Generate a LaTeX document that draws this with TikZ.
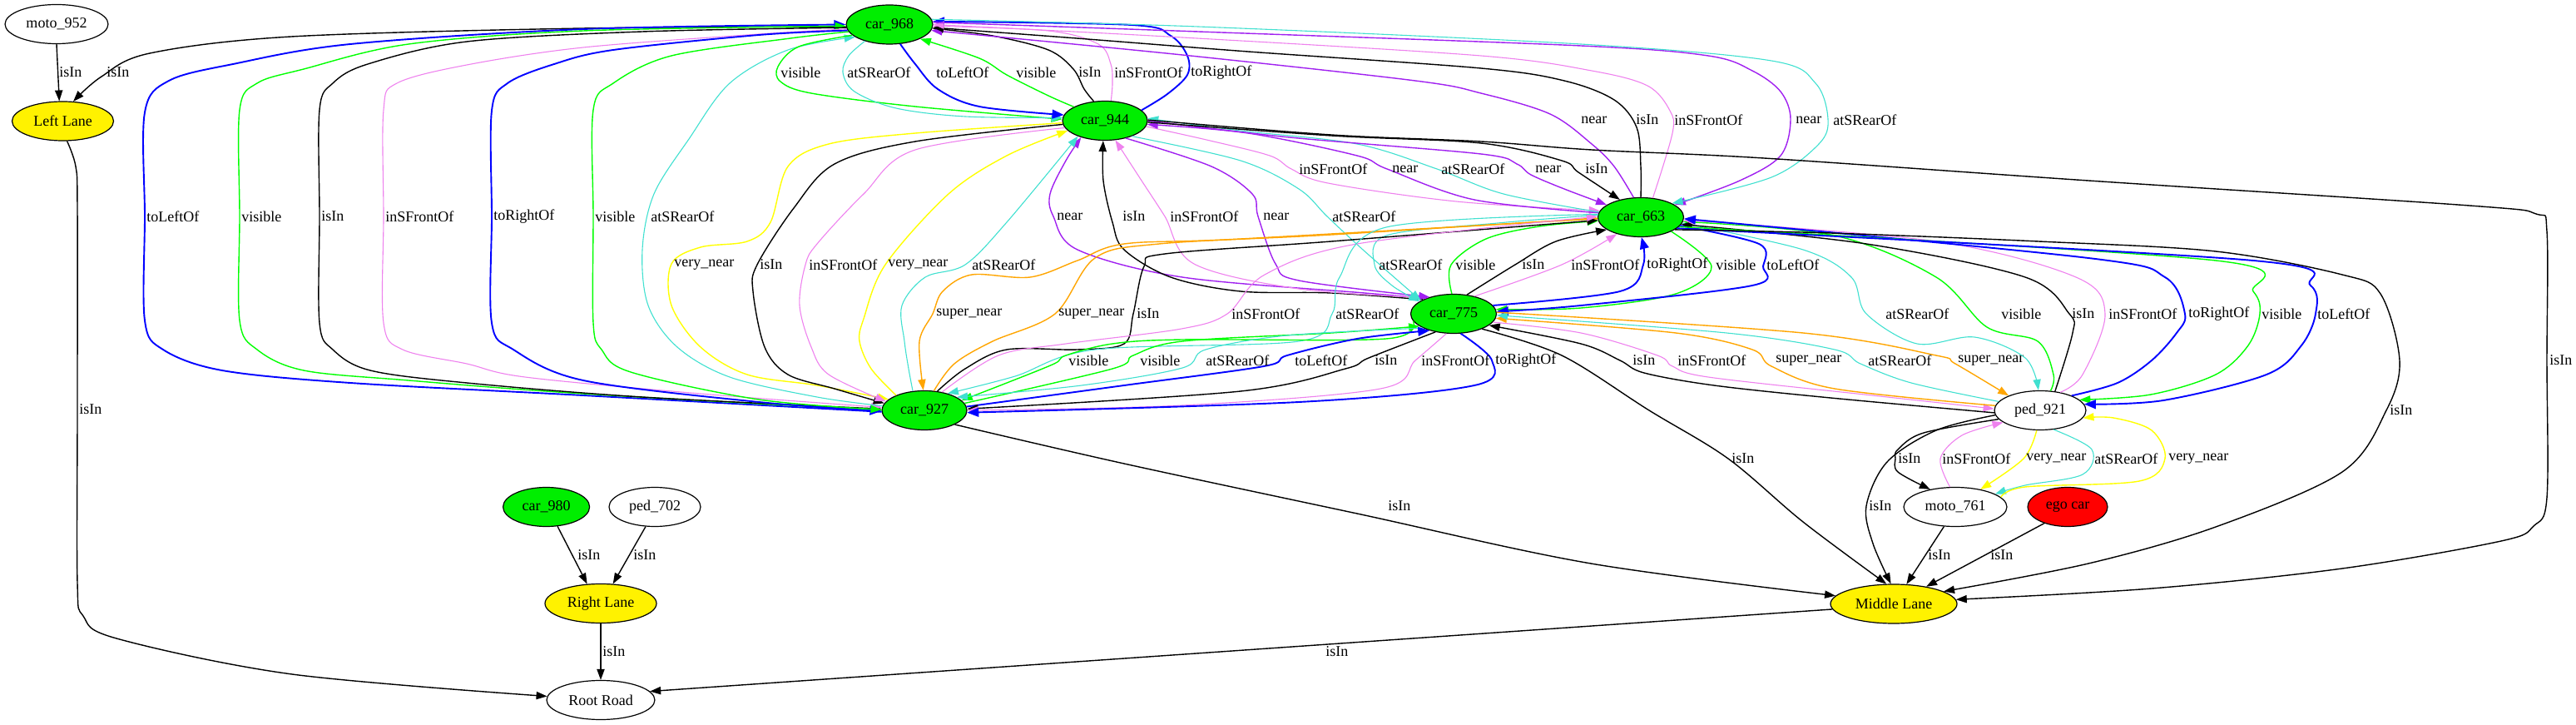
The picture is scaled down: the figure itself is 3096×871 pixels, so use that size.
\documentclass[tikz,border=0pt]{standalone}
\usepackage{fontspec}
\setmainfont{Liberation Serif}
\usetikzlibrary{shapes.geometric,arrows.meta}
\definecolor{ngreen}{HTML}{00EE00}
\definecolor{cgreen}{HTML}{00FF00}
\definecolor{cblue}{HTML}{0000FF}
\definecolor{cviolet}{HTML}{EE82EE}
\definecolor{cpurple}{HTML}{A020F0}
\definecolor{cturq}{HTML}{40E0D0}
\definecolor{corange}{HTML}{FFA500}
\definecolor{cyellow}{HTML}{FFFF00}
\newcommand\gfont{\fontsize{9}{10}\selectfont}
\tikzset{
  nd/.style={ellipse, draw=black, line width=0.6pt, inner sep=0pt, minimum height=23.5pt, font=\gfont},
  gn/.style={nd, fill=ngreen},
  yn/.style={nd, fill=yellow},
  rn/.style={nd, fill=red},
  wn/.style={nd, fill=white},
  lb/.style={anchor=west, inner sep=0pt, font=\gfont},
  ed/.style={line width=0.55pt, -{Triangle[length=6.5pt,width=4.6pt]}},
  ek/.style={ed, draw=black, line width=0.7pt},
  eb/.style={ed, draw=cblue, line width=0.95pt, -{Triangle[length=7pt,width=5.4pt]}},
  eg/.style={ed, draw=cgreen, line width=0.7pt},
  ev/.style={ed, draw=cviolet},
  ep/.style={ed, draw=cpurple, line width=0.7pt},
  et/.style={ed, draw=cturq},
  eo/.style={ed, draw=corange, line width=0.7pt},
  ey/.style={ed, draw=cyellow, line width=0.7pt},
  sm/.style={smooth, tension=0.55},
}
\begin{document}
\begin{tikzpicture}[x=0.5pt,y=-0.5pt]
\useasboundingbox (0,0) rectangle (3096,871);
% nodes
\node[wn, minimum width=62pt] (m952) at (68,29) {moto\_952};
\node[yn, minimum width=61pt] (ll) at (75.5,145.5) {Left Lane};
\node[gn, minimum width=52pt] (c968) at (1069,29.5) {car\_968};
\node[gn, minimum width=51pt] (c944) at (1328,145) {car\_944};
\node[gn, minimum width=51.5pt] (c663) at (1972,261) {car\_663};
\node[gn, minimum width=51.5pt] (c775) at (1747,377) {car\_775};
\node[gn, minimum width=51pt] (c927) at (1111,493) {car\_927};
\node[wn, minimum width=55pt] (p921) at (2452,493) {ped\_921};
\node[wn, minimum width=62pt] (m761) at (2350,609) {moto\_761};
\node[rn, minimum width=48pt] (ego) at (2485,609) {ego car};
\node[yn, minimum width=76pt] (ml) at (2276,725.5) {Middle Lane};
\node[gn, minimum width=52pt] (c980) at (656.6,609) {car\_980};
\node[wn, minimum width=55pt] (p702) at (787,609) {ped\_702};
\node[yn, minimum width=67pt] (rl) at (722,725) {Right Lane};
\node[wn, minimum width=65pt] (rr) at (722,841) {Root Road};

% moto_952, car_968 -> Left Lane
\draw[ek] (m952.270) -- (ll.100);
\node[lb] (t01) at (71,87) {isIn};
\draw[ek] plot[sm] coordinates {(c968.183) (700,34) (350,44) (180,64) (122,92) (ll.62)};
\node[lb] (t02) at (128,87) {isIn};

% car_968 <-> car_927
\draw[eb] plot[sm] coordinates {(c927.182) (701,475) (421,460) (267,445) (196,420) (174,385) (174,260) (174,135) (203,97) (280,77) (421,53) (701,35) (c968.180)};
\draw[eg] plot[sm] coordinates {(c927.180) (701,473) (491,457) (365,445) (309,420) (288,385) (288,260) (288,132) (309,100) (365,83) (491,53) (701,37) (c968.182)};
\draw[ek] plot[sm] coordinates {(c968.184) (772,38) (561,50) (442,77) (400,100) (384,132) (384,260) (384,388) (400,420) (445,445) (561,460) (772,477) (c927.178)};
\draw[ev] plot[sm] coordinates {(c968.186) (912,41) (701,57) (561,78) (477,100) (461,132) (461,260) (461,388) (484,420) (561,437) (631,453) (842,473) (c927.176)};
\draw[eb] plot[sm] coordinates {(c968.188) (912,42) (737,60) (666,77) (610,100) (591,133) (591,260) (591,388) (617,420) (701,457) (912,483) (c927.181)};
\draw[eg] plot[sm] coordinates {(c968.190) (950,46) (807,67) (737,100) (713,132) (713,260) (713,388) (723,420) (758,447) (912,480) (c927.179)};
\draw[et] plot[sm] coordinates {(c927.174) (982,477) (877,453) (814,417) (779,367) (772,300) (786,233) (828,167) (877,100) (947,60) (c968.200)};
\node[lb] (t03) at (176,260) {toLeftOf};
\node[lb] (t04) at (290,260) {visible};
\node[lb] (t05) at (386,260) {isIn};
\node[lb] (t06) at (463,260) {inSFrontOf};
\node[lb] (t07) at (593,260) {toRightOf};
\node[lb] (t08) at (715,260) {visible};
\node[lb] (t09) at (782,260) {atSRearOf};

% car_968 <-> car_944
\draw[eg] plot[sm] coordinates {(c968.196) (960,56) (935,80) (938,98) (975,112) (1100,128) (c944.178)};
\draw[et] plot[sm] coordinates {(c968.214) (1020,67) (1013,87) (1027,110) (1077,130) (1160,140) (c944.176)};
\draw[eb] plot[sm] coordinates {(c968.-61) (1100,77) (1127,107) (1177,128) (c944.172)};
\draw[eg] plot[sm] coordinates {(c944.156) (1260,115) (1210,90) (1177,70) (c968.-25)};
\draw[ek] plot[sm] coordinates {(c944.120) (1303,107) (1290,83) (1260,60) (1193,43) (c968.-5)};
\draw[ev] plot[sm] coordinates {(c944.73) (1337,100) (1335,77) (1320,53) (1260,37) (c968.-2)};
\draw[eb] plot[sm] coordinates {(c944.16) (1403,113) (1427,90) (1427,67) (1407,43) (1360,30) (c968.4)};
\node[lb] (t10) at (938,87) {visible};
\node[lb] (t11) at (1018,87) {atSRearOf};
\node[lb] (t12) at (1125,87) {toLeftOf};
\node[lb] (t13) at (1221,87) {visible};
\node[lb] (t14) at (1296,87) {isIn};
\node[lb] (t15) at (1339,87) {inSFrontOf};
\node[lb] (t16) at (1431,87) {toRightOf};

% car_968 <-> car_663
\draw[ep] plot[sm] coordinates {(c663.110) (1940,200) (1913,173) (1863,137) (1780,112) (1701,97) (1421,66) (c968.-8)};
\draw[ek] plot[sm] coordinates {(c663.90) (1972,200) (1967,153) (1940,120) (1880,97) (1780,82) (1500,62) (1281,45) (c968.-4)};
\draw[ev] plot[sm] coordinates {(c663.58) (2010,160) (2007,133) (1980,103) (1913,85) (1780,67) (1421,45) (c968.0)};
\draw[ep] plot[sm] coordinates {(c968.3) (1440,38) (1900,55) (2053,67) (2106,85) (2140,110) (2152,143) (2140,187) (2091,217) (c663.20)};
\draw[et] plot[sm] coordinates {(c968.7) (1440,32) (1900,53) (2129,73) (2182,100) (2197,143) (2186,173) (2129,213) (c663.24)};
\node[lb] (t17) at (1900,144) {near};
\node[lb] (t18) at (1966,144) {isIn};
\node[lb] (t19) at (2012,144) {inSFrontOf};
\node[lb] (t20) at (2158,144) {near};
\node[lb] (t21) at (2203,144) {atSRearOf};

% car_944 <-> car_663
\draw[ev] plot[sm] coordinates {(c944.-8) (1450,168) (1526,187) (1552,203) (1596,220) (1750,242) (c663.171)};
\draw[ep] plot[sm] coordinates {(c663.174) (1772,240) (1667,203) (1631,187) (1500,160) (c944.-5)};
\draw[et] plot[sm] coordinates {(c663.173) (1807,233) (1727,203) (1631,173) (1491,157) (c944.3)};
\draw[ep] plot[sm] coordinates {(c944.0) (1550,165) (1780,185) (1823,197) (1840,210) (1880,227) (c663.160)};
\draw[ek] plot[sm] coordinates {(c944.-2) (1600,163) (1780,172) (1877,193) (1897,207) (c663.140)};
\node[lb] (t22) at (1561,203) {inSFrontOf};
\node[lb] (t23) at (1673,203) {near};
\node[lb] (t24) at (1732,203) {atSRearOf};
\node[lb] (t25) at (1845,203) {near};
\node[lb] (t26) at (1905,203) {isIn};

% car_944 <-> car_775
\draw[ep] plot[sm] coordinates {(c775.150) (1640,352) (1421,333) (1295,300) (1266,260) (1262,233) (1281,193) (c944.-145)};
\draw[ek] plot[sm] coordinates {(c775.155) (1600,352) (1491,350) (1407,333) (1351,300) (1337,267) (1326,217) (c944.-95)};
\draw[ev] plot[sm] coordinates {(c775.148) (1561,347) (1435,317) (1400,260) (1372,217) (c944.-62)};
\draw[ep] plot[sm] coordinates {(c944.-40) (1456,200) (1505,233) (1512,260) (1533,317) (1561,337) (c775.145)};
\draw[et] plot[sm] coordinates {(c944.-30) (1491,193) (1561,227) (1595,260) (1638,300) (c775.158)};
\node[lb] (t27) at (1270,260) {near};
\node[lb] (t28) at (1349,260) {isIn};
\node[lb] (t29) at (1406,260) {inSFrontOf};
\node[lb] (t30) at (1518,260) {near};
\node[lb] (t31) at (1601,260) {atSRearOf};

% car_944 <-> car_927
\draw[ey] plot[sm] coordinates {(c944.183) (1100,160) (996,173) (947,200) (926,267) (898,290) (842,297) (807,317) (807,367) (842,417) (898,450) (982,463) (c927.163)};
\draw[ek] plot[sm] coordinates {(c944.185) (1100,170) (1003,197) (954,250) (910,318) (905,350) (919,417) (947,450) (1003,467) (c927.170)};
\draw[ev] plot[sm] coordinates {(c944.190) (1100,180) (1038,233) (982,293) (968,318) (961,367) (975,417) (996,450) (c927.167)};
\draw[ey] plot[sm] coordinates {(c927.152) (1047,443) (1033,410) (1038,383) (1064,318) (1140,233) (1210,187) (c944.195)};
\draw[et] plot[sm] coordinates {(c927.121) (1092,443) (1087,410) (1084,367) (1112,333) (1160,318) (1210,267) (c944.-150)};
\node[lb] (t32) at (810,318) {very\_near};
\node[lb] (t33) at (913,318) {isIn};
\node[lb] (t34) at (972,318) {inSFrontOf};
\node[lb] (t35) at (1067,318) {very\_near};
\node[lb] (t36) at (1168,318) {atSRearOf};

% car_775 <-> car_663
\draw[et] plot[sm] coordinates {(c663.177) (1800,268) (1666,283) (1652,318) (1673,343) (c775.160)};
\draw[eg] plot[sm] coordinates {(c775.95) (1744,318) (1786,287) (1850,272) (c663.185)};
\draw[ek] plot[sm] coordinates {(c775.55) (1821,318) (1870,290) (c663.200)};
\draw[ev] plot[sm] coordinates {(c775.40) (1877,318) (c663.215)};
\draw[eb] plot[sm] coordinates {(c775.12) (1947,350) (1975,318) (c663.-88)};
\draw[eg] plot[sm] coordinates {(c663.-25) (2057,320) (2014,353) (1900,370) (c775.6)};
\draw[eb] plot[sm] coordinates {(c663.-12) (2114,293) (2119,320) (2106,343) (1900,367) (c775.3)};
\node[lb] (t37) at (1657,318) {atSRearOf};
\node[lb] (t38) at (1749,318) {visible};
\node[lb] (t39) at (1829,318) {isIn};
\node[lb] (t40) at (1888,318) {inSFrontOf};
\node[lb] (t41) at (1979,318) {toRightOf};
\node[lb] (t42) at (2062,318) {visible};
\node[lb] (t43) at (2123,318) {toLeftOf};

% car_927 <-> car_663
\draw[eo] plot[sm] coordinates {(c663.182) (1491,287) (1351,293) (1295,313) (1238,333) (1168,330) (1133,350) (1121,377) (1105,410) (c927.93)};
\draw[eo] plot[sm] coordinates {(c927.64) (1147,437) (1193,410) (1268,377) (1316,310) (1393,293) (1600,282) (c663.181)};
\draw[ek] plot[sm] coordinates {(c927.56) (1160,443) (1210,420) (1295,420) (1351,413) (1362,377) (1375,320) (1400,305) (1600,290) (c663.184)};
\draw[ev] plot[sm] coordinates {(c927.46) (1200,427) (1281,413) (1420,395) (1475,377) (1520,330) (1631,293) (c663.179)};
\draw[et] plot[sm] coordinates {(c663.176) (1666,273) (1610,333) (1601,377) (1561,410) (1316,420) (1220,452) (c927.36)};
\node[lb] (t44) at (1125,377) {super\_near};
\node[lb] (t45) at (1272,377) {super\_near};
\node[lb] (t46) at (1366,377) {isIn};
\node[lb] (t47) at (1480,377) {inSFrontOf};
\node[lb] (t48) at (1605,377) {atSRearOf};

% car_927 <-> car_775
\draw[eg] plot[sm] coordinates {(c775.190) (1666,407) (1421,408) (1337,413) (1281,427) (1267,437) (1210,460) (c927.15)};
\draw[eg] plot[sm] coordinates {(c927.10) (1337,443) (1362,427) (1421,410) (1600,400) (c775.200)};
\draw[et] plot[sm] coordinates {(c775.205) (1547,403) (1449,420) (1421,442) (1300,463) (c927.22)};
\draw[eb] plot[sm] coordinates {(c927.5) (1351,463) (1519,440) (1547,427) (1631,407) (c775.215)};
\draw[ek] plot[sm] coordinates {(c775.225) (1645,430) (1617,443) (1491,470) (c927.2)};
\draw[ev] plot[sm] coordinates {(c775.250) (1701,433) (1659,467) (1421,487) (c927.0)};
\draw[eb] plot[sm] coordinates {(c775.290) (1793,433) (1772,463) (1561,483) (c927.-3)};
\node[lb] (t49) at (1284,433) {visible};
\node[lb] (t50) at (1370,433) {visible};
\node[lb] (t51) at (1449,433) {atSRearOf};
\node[lb] (t52) at (1556,433) {toLeftOf};
\node[lb] (t53) at (1652,433) {isIn};
\node[lb] (t54) at (1708,433) {inSFrontOf};
\node[lb] (t55) at (1797,433) {toRightOf};

% car_775 <-> ped_921
\draw[ek] plot[sm] coordinates {(p921.183) (2200,478) (2060,463) (1976,448) (1947,433) (1900,413) (c775.-18)};
\draw[ev] plot[sm] coordinates {(c775.-12) (1900,400) (1992,427) (2010,440) (2053,453) (2250,475) (p921.178)};
\draw[eo] plot[sm] coordinates {(p921.174) (2205,467) (2129,440) (2106,420) (2014,400) (c775.-6)};
\draw[et] plot[sm] coordinates {(p921.168) (2297,460) (2236,437) (2205,420) (2075,400) (c775.-2)};
\draw[eo] plot[sm] coordinates {(c775.2) (2167,400) (2327,427) (2350,437) (p921.155)};
\node[lb] (t56) at (1962,433) {isIn};
\node[lb] (t57) at (2016,433) {inSFrontOf};
\node[lb] (t58) at (2134,433) {super\_near};
\node[lb] (t59) at (2245,433) {atSRearOf};
\node[lb] (t60) at (2353,433) {super\_near};

% car_663 <-> ped_921
\draw[et] plot[sm] coordinates {(c663.-8) (2167,300) (2225,333) (2243,377) (2304,413) (2373,405) (2434,430) (p921.95)};
\draw[eg] plot[sm] coordinates {(p921.62) (2468,450) (2449,410) (2388,393) (2327,333) (2205,283) (c663.-6)};
\draw[ek] plot[sm] coordinates {(p921.52) (2491,400) (2487,377) (2434,333) (2243,293) (c663.-10)};
\draw[ev] plot[sm] coordinates {(p921.42) (2503,450) (2530,377) (2495,333) (2327,290) (c663.-4)};
\draw[eb] plot[sm] coordinates {(p921.25) (2545,460) (2586,433) (2616,400) (2626,377) (2602,333) (2510,310) (c663.-2)};
\draw[eg] plot[sm] coordinates {(c663.-14) (2663,313) (2708,350) (2716,377) (2702,415) (2663,450) (2585,474) (p921.15)};
\draw[eb] plot[sm] coordinates {(c663.-17) (2708,313) (2777,343) (2783,377) (2766,415) (2724,450) (2600,481) (p921.8)};
\node[lb] (t61) at (2266,377) {atSRearOf};
\node[lb] (t62) at (2405,377) {visible};
\node[lb] (t63) at (2490,377) {isIn};
\node[lb] (t64) at (2534,377) {inSFrontOf};
\node[lb] (t65) at (2630,377) {toRightOf};
\node[lb] (t66) at (2718,377) {visible};
\node[lb] (t67) at (2785,377) {toLeftOf};

% ped_921 <-> moto_761
\draw[ek] plot[sm] coordinates {(p921.192) (2312,520) (2281,540) (2278,551) (2281,567) (m761.145)};
\draw[ev] plot[sm] coordinates {(m761.105) (2332,551) (2358,523) (p921.198)};
\draw[ey] plot[sm] coordinates {(p921.-100) (2432,551) (m761.35)};
\draw[et] plot[sm] coordinates {(p921.-55) (2514,540) (2503,570) (2434,583) (m761.18)};
\draw[ey] plot[sm] coordinates {(m761.12) (2434,585) (2571,578) (2602,551) (2586,517) (2540,502) (p921.-10)};
\node[lb] (t68) at (2281,551) {isIn};
\node[lb] (t69) at (2334,551) {inSFrontOf};
\node[lb] (t70) at (2435,551) {very\_near};
\node[lb] (t71) at (2517,551) {atSRearOf};
\node[lb] (t72) at (2606,551) {very\_near};

% isIn edges to lanes and road
\draw[ek] plot[sm] coordinates {(c944.1) (1600,162) (1780,170) (1913,180) (2120,190) (2510,217) (2968,247) (3048,257) (3061,278) (3061,433) (3061,598) (3045,632) (3006,650) (2815,683) (2586,707) (ml.4)};
\draw[ek] plot[sm] coordinates {(c663.-20) (2200,280) (2450,290) (2663,302) (2815,330) (2861,353) (2884,433) (2868,493) (2815,567) (2663,633) (2510,677) (ml.14)};
\draw[ek] plot[sm] coordinates {(c775.-28) (1877,427) (1982,493) (2077,551) (2167,627) (ml.110)};
\draw[ek] plot[sm] coordinates {(p921.186) (2327,517) (2268,555) (2243,608) (2251,653) (ml.98)};
\draw[ek] plot[sm] coordinates {(c927.-25) (1351,557) (1631,617) (1912,677) (ml.172)};
\draw[ek] (m761.-120) -- (ml.57);
\draw[ek] (ego.-145) -- (ml.28);
\draw[ek] (ml.185) -- (rr.10);
\draw[ek] (rl.south) -- (rr.north);
\draw[ek] (c980.-60) -- (rl.125);
\draw[ek] (p702.-115) -- (rl.58);
\draw[ek] plot[sm] coordinates {(ll.-78) (91,200) (93,250) (93,492) (93,700) (100,740) (140,767) (351,810) (rr.176)};
\node[lb] (t73) at (3064,433) {isIn};
\node[lb] (t74) at (2872,493) {isIn};
\node[lb] (t75) at (2081,551) {isIn};
\node[lb] (t76) at (2246,608) {isIn};
\node[lb] (t77) at (1668,608) {isIn};
\node[lb] (t78) at (2317,667) {isIn};
\node[lb] (t79) at (2392,667) {isIn};
\node[lb] (t80) at (1593,783) {isIn};
\node[lb] (t81) at (724,783) {isIn};
\node[lb] (t82) at (694,667) {isIn};
\node[lb] (t83) at (761,667) {isIn};
\node[lb] (t84) at (95,492) {isIn};
\end{tikzpicture}
\end{document}
